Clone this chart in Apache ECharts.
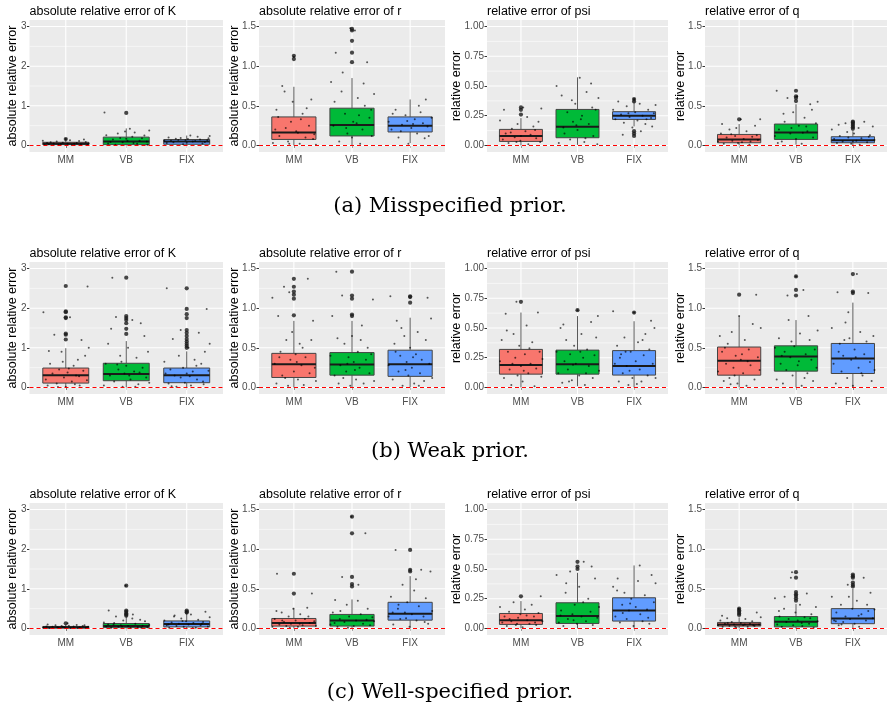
<!DOCTYPE html>
<html><head><meta charset="utf-8">
<script src="https://cdn.jsdelivr.net/npm/echarts@6/dist/echarts.min.js"></script>
<style>html,body{margin:0;padding:0;background:#fff}#c{width:887px;height:708px}</style>
</head><body><div id="c"></div>
<script>
const methods = ['MM', 'VB', 'FIX'];
const boxColors = ['#F8766D', '#00BA38', '#619CFF'];
const panelTitles = ['absolute relative error of K', 'absolute relative error of r', 'relative error of psi', 'relative error of q'];
const yTitles = ['absolute relative error', 'absolute relative error', 'relative error', 'relative error'];
const captions = ['(a) Misspecified prior.', '(b) Weak prior.', '(c) Well-specified prior.'];

const ticksK = [0, 1, 2, 3], minorK = [0.5, 1.5, 2.5];
const ticksR = [0, 0.5, 1, 1.5], minorR = [0.25, 0.75, 1.25];
const ticksPsi = [0, 0.25, 0.5, 0.75, 1], minorPsi = [0.125, 0.375, 0.625, 0.875];
const ticksQ = [0, 0.5, 1, 1.5], minorQ = [0.25, 0.75, 1.25];

// box stats per method: [lower whisker, Q1, median, Q3, upper whisker]
const statsA_K = [[0, 0.02, 0.045, 0.08, 0.15], [0, 0.02, 0.10, 0.21, 0.43], [0.01, 0.03, 0.10, 0.15, 0.25]];
const statsA_r = [[0, 0.076, 0.165, 0.36, 0.74], [0, 0.12, 0.257, 0.47, 0.85], [0.03, 0.17, 0.25, 0.36, 0.58]];
const statsA_psi = [[0, 0.034, 0.079, 0.135, 0.23], [0.005, 0.065, 0.157, 0.303, 0.573], [0.16, 0.219, 0.25, 0.284, 0.38]];
const statsA_q = [[0, 0.034, 0.076, 0.139, 0.27], [0.01, 0.076, 0.164, 0.27, 0.52], [0, 0.034, 0.067, 0.11, 0.18]];
const statsB_K = [[0, 0.11, 0.31, 0.49, 0.99], [0, 0.17, 0.34, 0.61, 1.17], [0, 0.12, 0.31, 0.49, 0.91]];
const statsB_r = [[0, 0.126, 0.294, 0.43, 0.84], [0, 0.155, 0.29, 0.44, 0.84], [0, 0.14, 0.294, 0.47, 0.88]];
const statsB_psi = [[0, 0.112, 0.188, 0.32, 0.63], [0.01, 0.112, 0.196, 0.314, 0.60], [0, 0.104, 0.18, 0.31, 0.557]];
const statsB_q = [[0, 0.155, 0.336, 0.51, 0.90], [0, 0.206, 0.39, 0.525, 0.85], [0, 0.176, 0.366, 0.555, 1.07]];
const statsC_K = [[0, 0.01, 0.03, 0.05, 0.10], [0, 0.02, 0.06, 0.125, 0.30], [0, 0.04, 0.11, 0.19, 0.38]];
const statsC_r = [[0, 0.03, 0.07, 0.126, 0.26], [0, 0.03, 0.10, 0.177, 0.366], [0, 0.105, 0.185, 0.33, 0.66]];
const statsC_psi = [[0, 0.034, 0.07, 0.126, 0.23], [0, 0.042, 0.104, 0.216, 0.468], [0, 0.062, 0.151, 0.258, 0.53]];
const statsC_q = [[0, 0.03, 0.05, 0.076, 0.14], [0, 0.02, 0.084, 0.15, 0.31], [0, 0.06, 0.126, 0.25, 0.50]];

// outliers per method
const outA_K = [[0.16], [0.82], []];
const outA_r = [[1.09, 1.13], [1.05, 1.17, 1.32, 1.45, 1.47], []];
const outA_psi = [[0.26, 0.30, 0.32], [], [0.39, 0.37, 0.12, 0.10, 0.08]];
const outA_q = [[0.33], [0.56, 0.60, 0.62, 0.69], [0.21, 0.23, 0.25, 0.27, 0.29, 0.30]];
const outB_K = [[1.21, 1.33, 1.36, 1.75, 1.77, 1.90, 1.92, 2.56], [1.35, 1.48, 1.62, 1.70, 1.75, 1.80, 2.77], [1.0, 1.05, 1.1, 1.16, 1.22, 1.3, 1.38, 1.45, 1.75, 1.85, 1.98, 2.5]];
const outB_r = [[0.91, 1.12, 1.17, 1.21, 1.27, 1.37], [0.90, 0.92, 1.12, 1.16, 1.46], [1.07, 1.14, 1.15]];
const outB_psi = [[0.72], [0.65], [0.63]];
const outB_q = [[1.17], [1.16, 1.23, 1.40], [1.19, 1.21, 1.43]];
const outC_K = [[0.13], [0.32, 0.35, 0.38, 0.42, 0.45, 1.08], [0.40, 0.42, 0.45]];
const outC_r = [[0.44, 0.69], [0.53, 0.56, 0.65, 1.2, 1.41], [0.72, 0.74, 0.99]];
const outC_psi = [[0.27], [0.50, 0.52, 0.56], []];
const outC_q = [[0.17, 0.19, 0.21, 0.23, 0.25], [0.35, 0.38, 0.41, 0.43, 0.46, 0.64, 0.71], [0.53, 0.55, 0.58, 0.64, 0.66, 0.68]];

// jittered observations per method: [x offset, value]
const jitA_K = [
 [[-.35,.01],[-.28,.03],[-.2,.05],[-.12,.02],[-.05,.07],[.03,.04],[.1,.01],[.18,.06],[.25,.03],[.33,.09],[.38,.05],[-.38,.12],[-.15,.1],[.07,.13],[.22,.11],[.3,.15],[-.25,.08],[0,.16],[.14,.04],[-.31,.06],[.36,.02],[-.08,.035]],
 [[-.36,.83],[-.3,.05],[-.22,.15],[-.14,.3],[-.06,.08],[.02,.12],[.1,.22],[.18,.04],[.26,.18],[.34,.1],[.38,.38],[-.33,.26],[-.18,.02],[.06,.42],[.14,.33],[.3,.25],[-.1,.19],[.22,.12],[-.26,.09],[0,.17],[.35,.02],[-.02,.35],[.12,.06]],
 [[-.37,.12],[-.3,.2],[-.22,.08],[-.14,.14],[-.06,.03],[.02,.16],[.1,.1],[.18,.22],[.26,.05],[.34,.13],[.38,.24],[-.33,.06],[-.18,.17],[.06,.25],[.14,.11],[.3,.09],[-.1,.19],[.22,.15],[-.26,.12],[0,.07],[.36,.18],[-.02,.13]]];
const jitA_r = [
 [[-.36,.03],[-.3,.45],[-.25,.12],[-.2,.75],[-.14,.22],[-.1,.05],[-.05,.3],[0,1.12],[.04,.18],[.1,.02],[.15,.4],[.2,.1],[.26,.25],[.3,.58],[.35,.14],[.38,.01],[-.32,.2],[-.16,.68],[-.02,.55],[.12,.33],[.22,.47],[.33,.08],[-.27,.36],[.07,.16],[-.08,.02]],
 [[-.36,.8],[-.32,.25],[-.28,1.17],[-.22,.05],[-.16,.92],[-.12,.4],[-.08,.15],[-.03,1.48],[.02,.3],[.05,1.45],[.1,.6],[.14,.02],[.18,.2],[.22,.5],[.26,1.05],[.3,.35],[.34,.12],[.38,.65],[-.3,.55],[-.18,.68],[0,.1],[.08,.28],[.2,.78],[.33,.45],[-.1,.22],[.12,.38]],
 [[-.37,.3],[-.32,.2],[-.25,.45],[-.2,.1],[-.14,.26],[-.08,.38],[-.03,.02],[.02,.22],[.08,.33],[.12,.15],[.18,.42],[.22,.28],[.27,.58],[.32,.12],[.37,.35],[-.3,.4],[-.16,.18],[.05,.27],[.15,.5],[.3,.24],[-.05,.31],[.25,.09]]];
const jitA_psi = [
 [[-.37,.21],[-.32,.05],[-.27,.1],[-.22,.02],[-.16,.14],[-.11,.07],[-.06,.18],[-.01,.04],[.04,.32],[.08,.12],[.13,.01],[.17,.09],[.22,.16],[.27,.06],[.31,.2],[.36,.31],[-.3,.3],[-.18,.11],[0,.08],[.11,.24],[.25,.13],[-.08,.03],[.34,.03]],
 [[-.37,.5],[-.33,.02],[-.28,.42],[-.23,.1],[-.18,.28],[-.13,.05],[-.08,.2],[-.04,.35],[0,.13],[.04,.57],[.08,.25],[.12,.03],[.16,.45],[.2,.18],[.24,.52],[.28,.08],[.32,.3],[.37,.4],[-.25,.15],[-.1,.38],[.06,.22],[.14,.06],[.26,.32],[.35,.01],[-.02,.17]],
 [[-.37,.3],[-.33,.22],[-.28,.37],[-.23,.26],[-.18,.19],[-.13,.33],[-.08,.24],[-.03,.15],[.02,.28],[.06,.21],[.1,.35],[.15,.25],[.2,.18],[.25,.3],[.3,.23],[.35,.27],[.38,.34],[-.2,.09],[0,.39],[.12,.12],[-.1,.27],[.22,.22],[.32,.16]]];
const jitA_q = [
 [[-.37,.05],[-.32,.15],[-.27,.02],[-.22,.1],[-.17,.2],[-.12,.06],[-.07,.12],[-.02,.03],[.03,.33],[.08,.08],[.13,.18],[.18,.01],[.23,.11],[.28,.25],[.33,.07],[.37,.33],[-.3,.27],[-.14,.14],[.05,.04],[.2,.05],[-.05,.22],[.31,.13]],
 [[-.37,.12],[-.34,.69],[-.3,.2],[-.25,.05],[-.2,.3],[-.15,.6],[-.1,.15],[-.05,.42],[0,.08],[.05,.25],[.1,.02],[.15,.35],[.2,.18],[.25,.52],[.3,.1],[.35,.28],[.38,.55],[-.22,.4],[-.08,.22],[.02,.62],[.12,.16],[.28,.45],[-.32,.03],[.18,.24]],
 [[-.37,.2],[-.33,.08],[-.28,.03],[-.23,.12],[-.18,.05],[-.13,.28],[-.08,.1],[-.03,.02],[.02,.15],[.06,.06],[.1,.22],[.15,.09],[.2,.3],[.25,.04],[.3,.13],[.35,.24],[.38,.07],[-.25,.26],[-.1,.17],[.12,.01],[.28,.11],[0,.05]]];
const jitB_K = [
 [[-.37,1.9],[-.33,.2],[-.3,.05],[-.26,.6],[-.22,.35],[-.19,1.33],[-.15,.1],[-.11,.45],[-.07,.9],[-.03,.25],[0,.02],[.03,.38],[.07,1.77],[.1,.15],[.13,.55],[.17,.3],[.2,.7],[.23,.05],[.26,1.2],[.29,.42],[.32,.8],[.35,.18],[.38,1.0],[.36,2.55],[-.28,.92],[-.13,.01],[.05,.48],[.22,.28],[-.05,.65],[.15,.08]],
 [[-.37,.05],[-.34,.6],[-.3,1.1],[-.27,.3],[-.23,2.77],[-.2,.15],[-.17,1.78],[-.13,.45],[-.1,.8],[-.06,.02],[-.03,.35],[0,.55],[.03,1.0],[.07,.2],[.1,1.7],[.13,.4],[.17,.75],[.2,.08],[.24,1.62],[.27,.5],[.3,1.3],[.33,.25],[.36,.9],[.38,.12],[-.25,1.48],[-.08,.65],[.05,.3],[.15,.02],[.22,.38],[-.15,.58]],
 [[-.37,.65],[-.33,2.5],[-.3,.1],[-.27,.45],[-.23,1.22],[-.2,.3],[-.17,.02],[-.13,.8],[-.1,.25],[-.06,.5],[-.03,.12],[0,.35],[.03,1.0],[.07,.05],[.1,.4],[.13,.7],[.17,.2],[.2,1.38],[.24,.6],[.27,.15],[.3,.9],[.33,1.98],[.36,.42],[.38,1.1],[-.25,.03],[-.1,1.45],[.05,.28],[.16,.55],[-.35,.35],[.28,.08]]];
const jitB_r = [
 [[-.37,1.13],[-.33,.3],[-.3,.05],[-.27,.9],[-.23,.45],[-.2,.15],[-.17,1.27],[-.13,.6],[-.1,.02],[-.06,.35],[-.03,.7],[0,.2],[.03,.42],[.07,.1],[.1,.55],[.13,.28],[.17,.03],[.2,.38],[.24,1.37],[.27,.18],[.3,.6],[.33,.84],[.36,.25],[.38,.08],[-.25,.38],[-.08,1.2],[.05,.32],[.15,.5],[-.15,.12]],
 [[-.37,.4],[-.34,.9],[-.3,.15],[-.27,1.46],[-.23,.05],[-.2,.28],[-.17,1.16],[-.13,.55],[-.1,.2],[-.06,.38],[-.03,.02],[0,.65],[.03,.32],[.07,.1],[.1,.45],[.13,.25],[.17,.78],[.2,.05],[.24,.35],[.27,.5],[.3,.18],[.33,.42],[.36,1.11],[.38,.08],[-.25,.62],[-.08,.3],[.05,.22],[.15,.6],[-.15,.12]],
 [[-.37,.28],[-.34,1.15],[-.3,.1],[-.27,.55],[-.23,.84],[-.2,.2],[-.17,.4],[-.13,.02],[-.1,.65],[-.06,.32],[-.03,.15],[0,.5],[.03,.25],[.07,.05],[.1,.42],[.13,.7],[.17,.18],[.2,.35],[.24,.08],[.27,.6],[.3,1.13],[.33,.3],[.36,.87],[.38,.12],[-.25,.45],[-.08,.22],[.05,.38],[.15,.02],[-.15,.75]]];
const jitB_psi = [
 [[-.37,.22],[-.34,.4],[-.3,.08],[-.27,.62],[-.23,.3],[-.2,.15],[-.17,.02],[-.13,.45],[-.1,.25],[-.06,.1],[-.03,.35],[0,.18],[.03,.05],[.07,.28],[.1,.52],[.13,.12],[.17,.2],[.2,.38],[.24,.01],[.27,.16],[.3,.63],[.33,.3],[.36,.09],[.38,.24],[-.25,.48],[-.08,.72],[.05,.14],[.15,.33],[-.15,.2]],
 [[-.37,.3],[-.34,.12],[-.3,.5],[-.27,.04],[-.23,.22],[-.2,.4],[-.17,.15],[-.13,.28],[-.1,.06],[-.06,.35],[-.03,.2],[0,.65],[.03,.1],[.07,.45],[.1,.25],[.13,.02],[.17,.32],[.2,.18],[.24,.55],[.27,.08],[.3,.27],[.33,.42],[.36,.6],[.38,.14],[-.25,.53],[-.08,.19],[.05,.3],[.15,.12],[-.15,.05]],
 [[-.37,.64],[-.34,.2],[-.3,.35],[-.27,.05],[-.23,.28],[-.2,.12],[-.17,.42],[-.13,.18],[-.1,.02],[-.06,.3],[-.03,.08],[0,.63],[.03,.22],[.07,.38],[.1,.15],[.13,.05],[.17,.27],[.2,.45],[.24,.1],[.27,.32],[.3,.56],[.33,.2],[.36,.5],[.38,.08],[-.25,.25],[-.08,.14],[.05,.03],[.15,.4],[-.15,.3]]];
const jitB_q = [
 [[-.37,.2],[-.34,.65],[-.3,.45],[-.27,.08],[-.23,.3],[-.2,.55],[-.17,.12],[-.13,.7],[-.1,.25],[-.06,.4],[-.03,.05],[0,.9],[.03,.35],[.07,.18],[.1,.6],[.13,.02],[.17,.48],[.2,.28],[.24,.8],[.27,.1],[.3,1.17],[.33,.38],[.36,.22],[.38,.75],[-.25,.5],[-.08,.15],[.05,.42],[.15,.33],[-.15,.04]],
 [[-.37,.5],[-.34,.1],[-.3,.62],[-.27,.3],[-.23,.05],[-.2,.45],[-.17,.22],[-.13,.85],[-.1,.38],[-.06,.15],[-.03,.52],[0,1.4],[.03,.28],[.07,.68],[.1,.02],[.13,1.23],[.17,.42],[.2,.18],[.24,.6],[.27,.35],[.3,.08],[.33,.48],[.36,.25],[.38,.72],[-.25,.4],[-.08,.58],[.05,.33],[.15,.12],[-.15,1.16],[.22,.9]],
 [[-.37,.75],[-.34,.3],[-.3,.05],[-.27,1.2],[-.23,.55],[-.2,.2],[-.17,.4],[-.13,.82],[-.1,.12],[-.06,.62],[-.03,.35],[0,.02],[.03,.48],[.07,1.43],[.1,.25],[.13,.7],[.17,.15],[.2,.42],[.24,.58],[.27,1.19],[.3,.32],[.33,.08],[.36,.65],[.38,.22],[-.25,.45],[-.08,.95],[.05,.38],[.15,.18],[-.15,.6]]];
const jitC_K = [
 [[-.37,.02],[-.32,.05],[-.27,.01],[-.22,.04],[-.17,.08],[-.12,.02],[-.07,.06],[-.02,.03],[.03,.13],[.08,.01],[.13,.05],[.18,.09],[.23,.03],[.28,.06],[.33,.02],[.37,.04],[-.3,.1],[-.14,.03],[.05,.07],[.2,.01],[-.05,.04],[.31,.08]],
 [[-.37,.15],[-.33,.05],[-.29,.45],[-.25,.02],[-.21,.1],[-.17,.3],[-.13,.04],[-.09,.08],[-.05,.2],[-.01,1.08],[.03,.06],[.07,.01],[.11,.35],[.15,.12],[.19,.03],[.23,.22],[.27,.07],[.31,.18],[.35,.03],[.38,.09],[-.2,.14],[-.07,.05],[.1,.25],[.25,.02],[-.3,.1]],
 [[-.37,.2],[-.33,.08],[-.29,.02],[-.25,.15],[-.21,.3],[-.17,.06],[-.13,.12],[-.09,.25],[-.05,.04],[-.01,.18],[.03,.1],[.07,.35],[.11,.14],[.15,.02],[.19,.22],[.23,.08],[.27,.16],[.31,.42],[.35,.05],[.38,.28],[-.2,.33],[-.07,.19],[.1,.01],[.25,.12],[-.3,.1]]];
const jitC_r = [
 [[-.37,.02],[-.33,.12],[-.29,.69],[-.25,.05],[-.21,.2],[-.17,.08],[-.13,.03],[-.09,.15],[-.05,.06],[-.01,.25],[.03,.1],[.07,.02],[.11,.18],[.15,.04],[.19,.12],[.23,.26],[.27,.07],[.31,.44],[.35,.09],[.38,.03],[-.2,.1],[-.07,.01],[.1,.06],[.25,.15],[-.3,.22]],
 [[-.37,.05],[-.33,.2],[-.29,.36],[-.25,.02],[-.21,.12],[-.17,.65],[-.13,.08],[-.09,.3],[-.05,.15],[-.01,1.41],[.03,.03],[.07,.1],[.11,.55],[.15,.18],[.19,.06],[.23,1.2],[.27,.25],[.31,.04],[.35,.14],[.38,.09],[-.2,.22],[-.07,.01],[.1,.35],[.25,.11],[-.3,.07]],
 [[-.37,.15],[-.33,.4],[-.29,.05],[-.25,.99],[-.21,.25],[-.17,.12],[-.13,.55],[-.09,.2],[-.05,.33],[-.01,.02],[.03,.18],[.07,.48],[.11,.1],[.15,.28],[.19,.74],[.23,.15],[.27,.38],[.31,.06],[.35,.72],[.38,.22],[-.2,.3],[-.07,.13],[.1,.62],[.25,.08],[-.3,.2]]];
const jitC_psi = [
 [[-.37,.18],[-.33,.05],[-.29,.1],[-.25,.02],[-.21,.14],[-.17,.06],[-.13,.22],[-.09,.03],[-.05,.09],[-.01,.12],[.03,.01],[.07,.16],[.11,.07],[.15,.04],[.19,.2],[.23,.1],[.27,.03],[.31,.13],[.35,.27],[.38,.06],[-.2,.08],[-.07,.04],[.1,.11],[.25,.05]],
 [[-.37,.45],[-.33,.05],[-.29,.15],[-.25,.02],[-.21,.3],[-.17,.08],[-.13,.48],[-.09,.12],[-.05,.2],[-.01,.04],[.03,.35],[.07,.1],[.11,.56],[.15,.06],[.19,.25],[.23,.14],[.27,.03],[.31,.42],[.35,.09],[.38,.18],[-.2,.38],[-.07,.07],[.1,.22],[.25,.52],[-.3,.11]],
 [[-.37,.35],[-.33,.1],[-.29,.42],[-.25,.05],[-.21,.2],[-.17,.3],[-.13,.08],[-.09,.15],[-.05,.25],[-.01,.02],[.03,.18],[.07,.4],[.11,.12],[.15,.06],[.19,.28],[.23,.16],[.27,.04],[.31,.45],[.35,.22],[.38,.38],[-.2,.13],[-.07,.21],[.1,.53],[.25,.09],[-.3,.32]]];
const jitC_q = [
 [[-.37,.04],[-.33,.1],[-.29,.02],[-.25,.06],[-.21,.13],[-.17,.03],[-.13,.08],[-.09,.05],[-.05,.01],[-.01,.25],[.03,.07],[.07,.04],[.11,.12],[.15,.02],[.19,.06],[.23,.09],[.27,.03],[.31,.2],[.35,.05],[.38,.14],[-.2,.07],[-.07,.02],[.1,.05],[.25,.04],[-.3,.16]],
 [[-.37,.38],[-.33,.05],[-.29,.15],[-.25,.02],[-.21,.25],[-.17,.08],[-.13,.12],[-.09,.64],[-.05,.04],[-.01,.2],[.03,.1],[.07,.3],[.11,.03],[.15,.14],[.19,.44],[.23,.06],[.27,.18],[.31,.01],[.35,.27],[.38,.09],[-.2,.4],[-.07,.71],[.1,.07],[.25,.13],[-.3,.22]],
 [[-.37,.4],[-.33,.1],[-.29,.2],[-.25,.04],[-.21,.3],[-.17,.08],[-.13,.15],[-.09,.55],[-.05,.12],[-.01,.25],[.03,.06],[.07,.35],[.11,.02],[.15,.18],[.19,.64],[.23,.1],[.27,.22],[.31,.45],[.35,.13],[.38,.24],[-.2,.05],[-.07,.4],[.1,.16],[.25,.3],[-.3,.09]]];

// ---- assembly ----
const rows = [
  { stats: [statsA_K, statsA_r, statsA_psi, statsA_q], out: [outA_K, outA_r, outA_psi, outA_q], jit: [jitA_K, jitA_r, jitA_psi, jitA_q] },
  { stats: [statsB_K, statsB_r, statsB_psi, statsB_q], out: [outB_K, outB_r, outB_psi, outB_q], jit: [jitB_K, jitB_r, jitB_psi, jitB_q] },
  { stats: [statsC_K, statsC_r, statsC_psi, statsC_q], out: [outC_K, outC_r, outC_psi, outC_q], jit: [jitC_K, jitC_r, jitC_psi, jitC_q] }
];
const cols = [
  { ticks: ticksK, minor: minorK, dec: 0 },
  { ticks: ticksR, minor: minorR, dec: 1 },
  { ticks: ticksPsi, minor: minorPsi, dec: 2 },
  { ticks: ticksQ, minor: minorQ, dec: 1 }
];

const colLeft = [29.5, 259, 487, 705];
const colWidth = [193.5, 186, 181, 186.7];
const rowTop = [20, 262, 503];
const panelH = 132;
const yTitleGap = [17, 24, 30, 24.5];
const captionY = [207, 452, 693];
const SANS = '"Liberation Sans", Arial, Helvetica, sans-serif';

const grids = [], xAxes = [], yAxes = [], series = [], graphics = [];

function renderGridLines(params, api) {
  const cs = params.coordSys;
  const kind = api.value(0), v = api.value(1), minor = api.value(2);
  const w = minor ? 0.55 : 1.1;
  if (kind === 0) {
    const y = api.coord([2, v])[1];
    return { type: 'line', shape: { x1: cs.x, y1: y, x2: cs.x + cs.width, y2: y }, style: { stroke: '#FFFFFF', lineWidth: w } };
  }
  const x = api.coord([v, 0])[0];
  return { type: 'line', shape: { x1: x, y1: cs.y, x2: x, y2: cs.y + cs.height }, style: { stroke: '#FFFFFF', lineWidth: w } };
}

function renderBox(params, api) {
  const m = api.value(0), lo = api.value(1), q1 = api.value(2), med = api.value(3), q3 = api.value(4), hi = api.value(5);
  const hw = 0.38;
  const tl = api.coord([m - hw, q3]), br = api.coord([m + hw, q1]);
  const cx = api.coord([m, lo])[0];
  const yLo = api.coord([m, lo])[1], yHi = api.coord([m, hi])[1];
  const yMed = api.coord([m, med])[1];
  const color = boxColors[params.dataIndex];
  return {
    type: 'group',
    children: [
      { type: 'line', shape: { x1: cx, y1: br[1], x2: cx, y2: yLo }, style: { stroke: '#595959', lineWidth: 1 } },
      { type: 'line', shape: { x1: cx, y1: tl[1], x2: cx, y2: yHi }, style: { stroke: '#595959', lineWidth: 1 } },
      { type: 'rect', shape: { x: tl[0], y: tl[1], width: br[0] - tl[0], height: br[1] - tl[1] }, style: { fill: color, stroke: '#444444', lineWidth: 1 } },
      { type: 'line', shape: { x1: tl[0], y1: yMed, x2: br[0], y2: yMed }, style: { stroke: '#1A1A1A', lineWidth: 2 } }
    ]
  };
}

rows.forEach((row, r) => {
  cols.forEach((col, c) => {
    const g = grids.length;
    const R = col.ticks[col.ticks.length - 1];
    grids.push({ left: colLeft[c], top: rowTop[r], width: colWidth[c], height: panelH, show: true, backgroundColor: '#EBEBEB', borderWidth: 0 });
    xAxes.push({
      type: 'value', gridIndex: g, min: 0.4, max: 3.6,
      axisLine: { show: false },
      axisTick: { show: true, customValues: [1, 2, 3], length: 2.5, lineStyle: { color: '#333333' } },
      axisLabel: { customValues: [1, 2, 3], formatter: v => methods[Math.round(v) - 1], color: '#4D4D4D', fontSize: 10, fontFamily: SANS, margin: 3 },
      splitLine: { show: false }
    });
    yAxes.push({
      type: 'value', gridIndex: g, min: -0.055 * R, max: 1.055 * R,
      axisLine: { show: false },
      axisTick: { show: true, customValues: col.ticks, length: 2.5, lineStyle: { color: '#333333' } },
      axisLabel: { customValues: col.ticks, formatter: v => Number(v).toFixed(col.dec), color: '#4D4D4D', fontSize: 10, fontFamily: SANS, margin: 3 },
      splitLine: { show: false }
    });
    const gl = [];
    col.ticks.forEach(v => gl.push([0, v, 0]));
    col.minor.forEach(v => gl.push([0, v, 1]));
    [1, 2, 3].forEach(v => gl.push([1, v, 0]));
    series.push({ type: 'custom', xAxisIndex: g, yAxisIndex: g, renderItem: renderGridLines, data: gl, silent: true, z: 1, clip: true });
    const st = row.stats[c].map((s, i) => [i + 1].concat(s));
    series.push({ type: 'custom', xAxisIndex: g, yAxisIndex: g, renderItem: renderBox, data: st, encode: { x: 0, y: [1, 2, 3, 4, 5] }, silent: true, z: 2, clip: true });
    const outs = [];
    row.out[c].forEach((arr, i) => arr.forEach(v => outs.push([i + 1, v])));
    series.push({ type: 'scatter', xAxisIndex: g, yAxisIndex: g, data: outs, symbolSize: 4.2, itemStyle: { color: '#1A1A1A' }, silent: true, z: 3 });
    const pts = [];
    row.jit[c].forEach((arr, i) => arr.forEach(p => pts.push([i + 1 + p[0], p[1]])));
    series.push({
      type: 'scatter', xAxisIndex: g, yAxisIndex: g, data: pts, symbolSize: 2,
      itemStyle: { color: 'rgba(0,0,0,0.8)' }, silent: true, z: 4,
      markLine: { silent: true, symbol: 'none', label: { show: false }, data: [{ yAxis: 0 }], lineStyle: { color: '#FF0000', type: [4, 3], width: 1 }, animation: false }
    });
    graphics.push({ type: 'text', x: colLeft[c], y: rowTop[r] - 8.5, style: { text: panelTitles[c], font: '12.5px ' + SANS, fill: '#000000', align: 'left', verticalAlign: 'middle', textAlign: 'left', textVerticalAlign: 'middle' } });
    graphics.push({ type: 'text', x: colLeft[c] - yTitleGap[c], y: rowTop[r] + panelH / 2, rotation: Math.PI / 2, style: { text: yTitles[c], font: '12.5px ' + SANS, fill: '#000000', align: 'center', verticalAlign: 'middle', textAlign: 'center', textVerticalAlign: 'middle' } });
  });
  graphics.push({ type: 'text', x: 450, y: captionY[r], style: { text: captions[r], font: '21px "DejaVu Serif", "Liberation Serif", serif', fill: '#000000', align: 'center', verticalAlign: 'middle', textAlign: 'center', textVerticalAlign: 'middle' } });
});

const chart = echarts.init(document.getElementById('c'), null, { renderer: 'canvas' });
chart.setOption({
  animation: false,
  backgroundColor: '#FFFFFF',
  grid: grids,
  xAxis: xAxes,
  yAxis: yAxes,
  series: series,
  graphic: { elements: graphics }
});
</script>
</body></html>
